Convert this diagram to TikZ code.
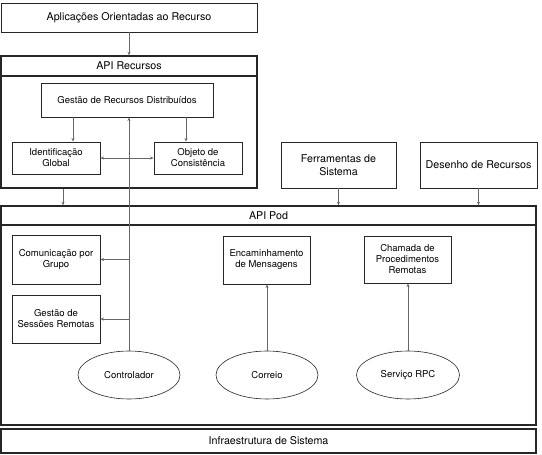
\documentclass[tikz,border=0pt]{standalone}
\usepackage{fontspec}
\setmainfont{TeX Gyre Heros}
\usetikzlibrary{arrows.meta,shapes.geometric}
\newcommand\smallfont{\fontsize{9.5}{11}\selectfont}
\newcommand\bigfont{\fontsize{10.7}{12.5}\selectfont}
\begin{document}
\begin{tikzpicture}[x=1pt,y=-1pt,
  box/.style={draw=black!85,line width=0.9pt,align=center,inner sep=0pt,font=\smallfont},
  bigbox/.style={box,font=\bigfont},
  frame/.style={draw=black!85,line width=1.4pt,inner sep=0pt,font=\bigfont},
  oval/.style={draw=black!85,ellipse,line width=0.6pt,inner sep=0pt,minimum width=102pt,minimum height=48pt,font=\smallfont},
  conn/.style={draw=black!60,line width=0.6pt,-{Stealth[length=3.5pt,width=3pt]}},
  both/.style={conn,{Stealth[length=3.5pt,width=3pt]}-{Stealth[length=3.5pt,width=3pt]}}]
\useasboundingbox (0,0) rectangle (542,455);
% upper block
\node[bigbox,minimum width=256pt,minimum height=29pt] (aplic) at (129,17.5) {Aplicações Orientadas ao Recurso};
\node[frame,minimum width=256pt,minimum height=132pt] (recbox) at (129,122) {};
\node[frame,minimum width=256pt,minimum height=20pt] (rechead) at (129,66) {API Recursos};
\node[box,minimum width=172pt,minimum height=34pt] (gestao) at (127,100) {Gestão de Recursos Distribuídos};
\node[box,minimum width=88pt,minimum height=32pt] (ident) at (56,158) {Identificação\\Global};
\node[box,minimum width=88pt,minimum height=32pt] (objeto) at (198,158) {Objeto de\\Consistência};
\node[bigbox,minimum width=115pt,minimum height=46pt] (ferr) at (338.5,165) {Ferramentas de\\Sistema};
\node[bigbox,minimum width=117pt,minimum height=46pt] (desenho) at (478.5,165) {Desenho de Recursos};
% pod block
\node[frame,minimum width=535pt,minimum height=219pt] (podbox) at (268.5,315.5) {};
\node[frame,minimum width=535pt,minimum height=19pt] (podhead) at (268.5,215.5) {API Pod};
\node[box,minimum width=88pt,minimum height=49pt] (com) at (56,259.5) {Comunicação por\\Grupo};
\node[box,minimum width=88pt,minimum height=48pt] (sessoes) at (56,319) {Gestão de\\Sessões Remotas};
\node[box,minimum width=87pt,minimum height=48pt] (encam) at (266.5,260) {Encaminhamento\\de Mensagens};
\node[box,minimum width=87pt,minimum height=47pt] (chamada) at (407.5,259.5) {Chamada de\\Procedimentos\\Remotas};
\node[oval] (ctrl) at (129,375) {Controlador};
\node[oval] (correio) at (267,375) {Correio};
\node[oval,minimum width=103pt] (rpc) at (408,375) {Serviço RPC};
\node[frame,minimum width=535pt,minimum height=24pt] (infra) at (268.5,441) {Infraestrutura de Sistema};
% connectors
\draw[conn] (aplic) -- (rechead);
\draw[conn] ([xshift=-54pt]gestao.south) -- ([xshift=-54pt]gestao.south |- ident.north);
\draw[conn] ([xshift=59pt]gestao.south) -- ([xshift=59pt]gestao.south |- objeto.north);
\draw[both] (ident) -- (objeto);
\draw[conn] (ctrl) -- (ctrl.north |- gestao.south);
\draw[conn] (ctrl.north |- com.east) -- (com);
\draw[conn] (ctrl.north |- sessoes.east) -- (sessoes);
\draw[conn] ([xshift=-66pt]recbox.south) -- ([xshift=-66pt]recbox.south |- podhead.north);
\draw[conn] (ferr) -- (ferr.south |- podhead.north);
\draw[conn] (desenho) -- (desenho.south |- podhead.north);
\draw[conn] (correio) -- (correio.north |- encam.south);
\draw[conn] (rpc) -- (rpc.north |- chamada.south);
\end{tikzpicture}
\end{document}
